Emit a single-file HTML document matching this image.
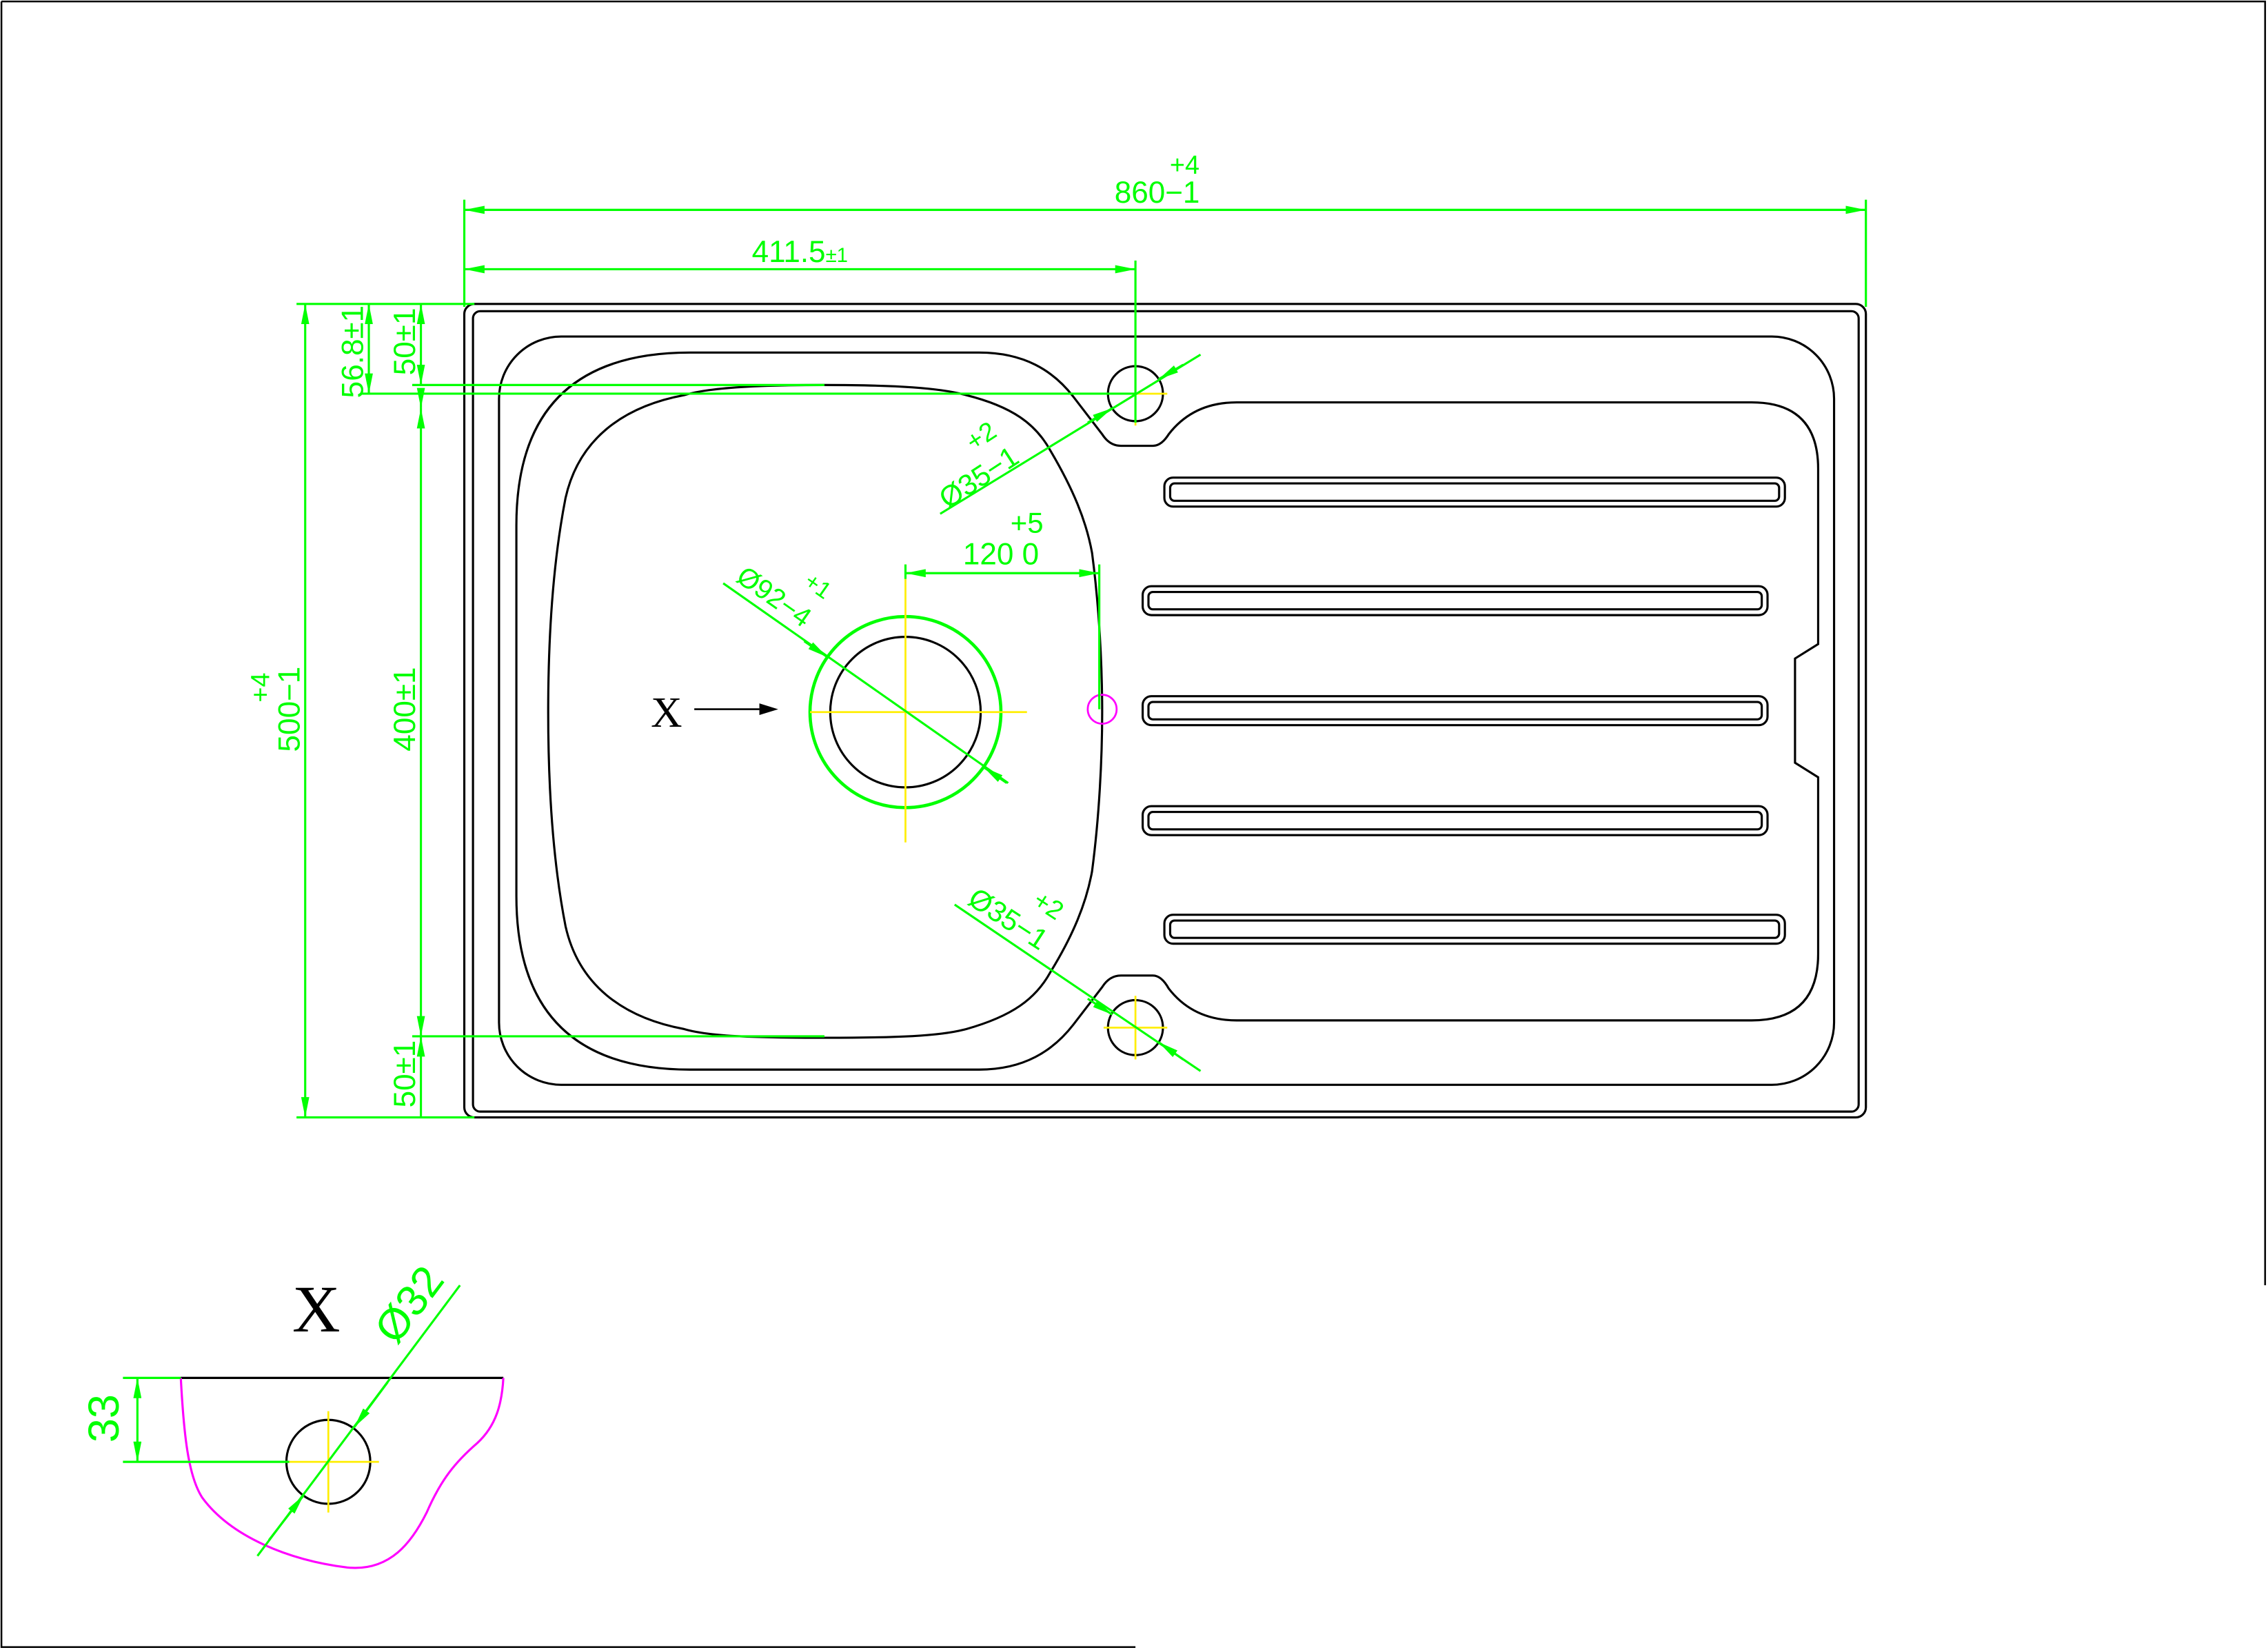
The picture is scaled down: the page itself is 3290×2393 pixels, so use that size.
<!DOCTYPE html>
<html><head><meta charset="utf-8"><style>
html,body{margin:0;padding:0;background:#fff;}
svg{display:block;}
</style></head><body>
<svg width="3290" height="2393" viewBox="0 0 1568 1140" preserveAspectRatio="none" xmlns="http://www.w3.org/2000/svg">
<defs>
<marker id="a" viewBox="0 0 10 4" refX="10" refY="2" markerWidth="14" markerHeight="5.6" markerUnits="userSpaceOnUse" orient="auto-start-reverse"><path d="M0,0 L10,2 L0,4 z" fill="#00ff00"/></marker>
</defs>
<rect width="1568" height="1140" fill="#fff"/>
<g stroke="#000" stroke-width="1.2" fill="none">
<path d="M1,1 H1566 V888"/>
<path d="M1,1 V1138 H785"/>
</g>
<g stroke="#000" stroke-width="1.5" fill="none">
<rect x="321" y="210" width="969" height="562" rx="7"/>
<rect x="327" y="215" width="958" height="553" rx="5"/>
<rect x="345" y="232.5" width="923" height="517" rx="43"/>
<path d="M477,243.6 H677 C708,243.6 728,256 742,274 L762,300 Q767,308 775,308 H797 Q803,308 808,300 Q825,278 855,278 H1211 Q1257,278 1257,324 V445 L1241,455 V527 L1257,537 V659 Q1257,705 1211,705 H855 Q825,705 808,683 Q803,674 797,674 H775 Q767,674 762,682 L742,708 C728,726 708,739 677,739 H477 Q357,739 357,619 V363 Q357,243.6 477,243.6 Z"/>
<path d="M570,266 C620,266 650,268 668,273 C700,281 716,293 726,311 C742,338 751,360 755,382 C760,420 762,460 762,492 C762,524 760,564 755,602 C751,624 742,646 726,672 C716,690 700,702 668,711 C650,716 620,717 570,717 C520,717 490,716 473,711 C430,703 400,680 391,640 C382,594 379,544 379,492 C379,440 382,390 391,344 C400,304 430,281 473,273 C490,268 520,266 570,266 Z"/>
<rect x="805" y="330" width="429" height="20" rx="6"/>
<rect x="809" y="334" width="421" height="12" rx="3"/>
<rect x="790" y="405" width="432" height="20" rx="6"/>
<rect x="794" y="409" width="424" height="12" rx="3"/>
<rect x="790" y="481" width="432" height="20" rx="6"/>
<rect x="794" y="485" width="424" height="12" rx="3"/>
<rect x="790" y="557" width="432" height="20" rx="6"/>
<rect x="794" y="561" width="424" height="12" rx="3"/>
<rect x="805" y="632" width="429" height="20" rx="6"/>
<rect x="809" y="636" width="421" height="12" rx="3"/>
<circle cx="626" cy="492" r="52"/>
<circle cx="785" cy="272" r="19"/>
<circle cx="785" cy="710" r="19"/>
<circle cx="227" cy="1010" r="29"/>
<path d="M125,952 H348"/>
</g>
<circle cx="626" cy="492" r="66" stroke="#00ff00" stroke-width="2.2" fill="none"/>
<circle cx="762" cy="490" r="10" stroke="#ff00ff" stroke-width="1.3" fill="none"/>
<path d="M125,952 C127,990 130,1020 140,1035 C160,1062 200,1078 240,1083 C270,1086 285,1065 295,1045 C305,1022 315,1010 330,997 C343,985 347,970 348,952" stroke="#ff00ff" stroke-width="1.5" fill="none"/>
<g stroke="#ffee00" stroke-width="1.3">
<path d="M560,492 H710 M626,390 V582"/>
<path d="M763,272 H807 M785,250 V294"/>
<path d="M763,710 H807 M785,688 V732"/>
<path d="M195,1010 H262 M227,975 V1045"/>
</g>
<g stroke="#00ff00" stroke-width="1.5" fill="none">
<path d="M321,138 V212 M1290,138 V212"/>
<path d="M321,145 H1290" marker-start="url(#a)" marker-end="url(#a)"/>
<path d="M785,180 V292"/>
<path d="M321,186 H785" marker-start="url(#a)" marker-end="url(#a)"/>
<path d="M205,210 H328 M205,772 H328"/>
<path d="M211,210 V772" marker-start="url(#a)" marker-end="url(#a)"/>
<path d="M250,272 H785"/>
<path d="M255,210 V272" marker-start="url(#a)" marker-end="url(#a)"/>
<path d="M285,266 H570 M285,716 H570"/>
<path d="M291,210 V266" marker-start="url(#a)" marker-end="url(#a)"/>
<path d="M291,282 V716" marker-start="url(#a)" marker-end="url(#a)"/>
<path d="M291,716 V772" marker-start="url(#a)"/>
<path d="M291,270 V282" marker-end="url(#a)"/>
<path d="M626,390 V400 M760,390 V490"/>
<path d="M626,396 H760" marker-start="url(#a)" marker-end="url(#a)"/>
<path d="M500,403 L697,541"/>
<path d="M556,443 L572,454" marker-end="url(#a)"/>
<path d="M696,541 L680,530" marker-end="url(#a)"/>
<path d="M650,355 L830,245"/>
<path d="M752,292 L769,282" marker-end="url(#a)"/>
<path d="M818,252 L801,262" marker-end="url(#a)"/>
<path d="M660,625 L830,740"/>
<path d="M752,690 L769,701" marker-end="url(#a)"/>
<path d="M818,732 L801,720" marker-end="url(#a)"/>
<path d="M85,952 H125 M85,1010 H200"/>
<path d="M95,952 V1010" marker-start="url(#a)" marker-end="url(#a)"/>
<path d="M318,888 L178,1075"/>
<path d="M268,955 L245,986" marker-end="url(#a)"/>
<path d="M186,1064 L210,1033" marker-end="url(#a)"/>
</g>
<path d="M480,490 H525" stroke="#000" stroke-width="1.2"/>
<path d="M525,486 L538,490 L525,494 z" fill="#000"/>
<g fill="#00ff00" font-family="Liberation Sans Narrow, Liberation Sans, DejaVu Sans, sans-serif" font-size="21">
<text x="800" y="140" text-anchor="middle">860−1</text>
<text x="819" y="120" text-anchor="middle" font-size="18">+4</text>
<text x="553" y="181" text-anchor="middle">411.5<tspan font-size="14">±1</tspan></text>
<text transform="translate(207,490) rotate(-90)" text-anchor="middle">500−1</text>
<text transform="translate(186,475) rotate(-90)" text-anchor="middle" font-size="18">+4</text>
<text transform="translate(251,243) rotate(-90)" text-anchor="middle">56.8±1</text>
<text transform="translate(287,236) rotate(-90)" text-anchor="middle">50±1</text>
<text transform="translate(287,490) rotate(-90)" text-anchor="middle">400±1</text>
<text transform="translate(287,742) rotate(-90)" text-anchor="middle">50±1</text>
<text x="692" y="390" text-anchor="middle">120 0</text>
<text x="710" y="368" text-anchor="middle" font-size="20">+5</text>
<text transform="translate(508,401) rotate(35)" font-size="19">Ø92−4</text>
<text transform="translate(555,404) rotate(35)" font-size="16">+1</text>
<text transform="translate(655,352) rotate(-33)" font-size="20">Ø35−1</text>
<text transform="translate(673,312) rotate(-33)" font-size="18">+2</text>
<text transform="translate(668,624) rotate(33)" font-size="20">Ø35−1</text>
<text transform="translate(713,625) rotate(33)" font-size="18">+2</text>
<text transform="translate(82,980) rotate(-90)" text-anchor="middle" font-size="30">33</text>
<text transform="translate(274,930) rotate(-53)" font-size="30">Ø32</text>
</g>
<g fill="#000" font-family="Liberation Serif, serif">
<text x="450" y="502" font-size="30">X</text>
<text x="202" y="920" font-size="46">X</text>
</g>
</svg>
</body></html>
